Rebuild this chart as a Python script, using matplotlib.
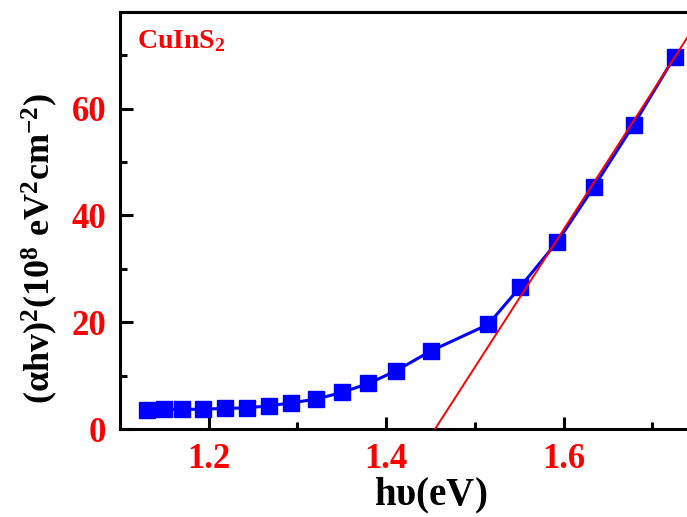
import matplotlib
matplotlib.use("Agg")
import matplotlib.pyplot as plt
import numpy as np
from matplotlib.ticker import MultipleLocator

# photon energy (eV) and (alpha*h*v)^2
energy = [1.130, 1.150, 1.170, 1.194, 1.218, 1.243, 1.268, 1.293, 1.321, 1.350,
          1.380, 1.411, 1.450, 1.515, 1.551, 1.593, 1.634, 1.679, 1.725]
absorb = [3.55, 3.68, 3.68, 3.74, 3.87, 3.98, 4.36, 4.92, 5.61, 6.86,
          8.54, 10.9, 14.6, 19.6, 26.6, 35.1, 45.3, 57.0, 69.7]

# linear fit used for the band gap extrapolation
band_gap = 1.455
fit_slope = 257.7

plt.rcParams['font.family'] = ['Liberation Serif', 'DejaVu Serif']
plt.rcParams['font.weight'] = 'bold'
plt.rcParams['mathtext.fontset'] = 'custom'
plt.rcParams['mathtext.rm'] = 'Liberation Serif:bold'
plt.rcParams['mathtext.bf'] = 'Liberation Serif:bold'
plt.rcParams['mathtext.it'] = 'Liberation Serif:bold'

fig = plt.figure(figsize=(6.87, 5.17), dpi=100)
ax = fig.add_axes([0.1747, 0.170, 0.904, 0.806])

ax.plot(energy, absorb, color='#0000ff', lw=2.2, marker='s', markersize=12,
        markeredgecolor='#0000ff', zorder=2)

fit_x = np.array([band_gap, 1.8])
ax.plot(fit_x, fit_slope * (fit_x - band_gap), color='#ff0000', lw=1.4, zorder=3)

ax.set_xlim(1.1, 1.8)
ax.set_ylim(0, 78)
ax.xaxis.set_minor_locator(MultipleLocator(0.1))
ax.yaxis.set_major_locator(MultipleLocator(20))
ax.yaxis.set_minor_locator(MultipleLocator(10))
ax.set_xticks([1.2, 1.4, 1.6])
ax.set_xticklabels(['1.2', '1.4', '1.6'])

ax.tick_params(which='both', direction='in', width=2.2, colors='black',
               labelcolor='#ff0000', labelsize=25)
ax.tick_params(which='major', length=9)
ax.tick_params(which='minor', length=5)
ax.tick_params(axis='x', pad=10)
ax.tick_params(axis='y', pad=10)
for s in ax.spines.values():
    s.set_linewidth(2.2)

ax.set_xlabel(r'h$\mathregular{\upsilon}$(eV)', fontsize=28, fontweight='bold', labelpad=0)
ax.set_ylabel(r'$\mathbf{(\alpha hv)^2(10^8\ eV^2cm^{-2})}$', fontsize=26)
ax.yaxis.set_label_coords(-0.097, 0.434)

ax.text(0.027, 0.962, r'$\mathbf{CuInS_2}$', transform=ax.transAxes, color='#ff0000',
        fontsize=20, va='top', ha='left')

fig.savefig('out.png', dpi=100)
